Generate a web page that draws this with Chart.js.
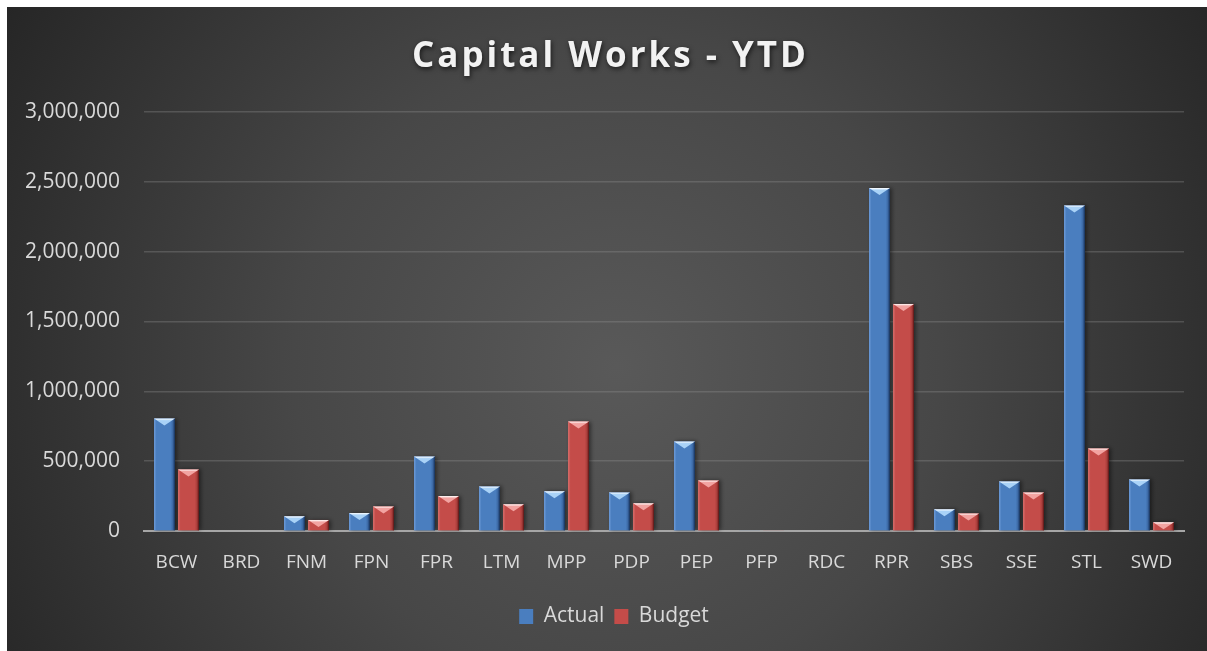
<!DOCTYPE html>
<html>
<head>
<meta charset="utf-8">
<title>Capital Works - YTD</title>
<script src="https://cdn.jsdelivr.net/npm/chart.js@4.4.1/dist/chart.umd.min.js"></script>
<style>
  html, body { margin: 0; padding: 0; background: #ffffff; overflow: hidden; }
  #wrap { position: absolute; left: 7px; top: 7px; width: 1200px; height: 644px; }
  canvas { display: block; }
</style>
</head>
<body>
<div id="wrap"><canvas id="capitalChart" width="1200" height="644"></canvas></div>
<script>
// --- chart data ---
const categories = ['BCW', 'BRD', 'FNM', 'FPN', 'FPR', 'LTM', 'MPP', 'PDP', 'PEP', 'PFP', 'RDC', 'RPR', 'SBS', 'SSE', 'STL', 'SWD'];
const actualValues = [805000, 0, 105000, 129000, 533000, 319000, 284000, 276000, 641000, 6000, 0, 2455000, 155000, 355000, 2331000, 369000];
const budgetValues = [441000, 0, 79000, 176000, 250000, 191000, 784000, 198000, 362000, 6000, 0, 1626000, 126000, 276000, 591000, 62000];
const yTicks = [0, 500000, 1000000, 1500000, 2000000, 2500000, 3000000];
const chartTitle = 'Capital Works - YTD';

const THEME = {
    text: '#d9d9d9',
    title: '#f2f2f2',
    grid: 'rgba(150,150,150,0.32)',
    axis: '#a6a6a6',
    font: "'Open Sans', 'DejaVu Sans', sans-serif",
    blue:  { body: '#4a7ebf', light: '#6d9bd8', dark: '#2c5288', edge: '#1f3c66', bevel: '#a9d2f7' },
    red:   { body: '#c44c49', light: '#d9706d', dark: '#8f2f2d', edge: '#6a1f1e', bevel: '#f2a3a1' }
};

// dark radial backdrop
const backdrop = {
    id: 'backdrop',
    beforeDraw(chart) {
        const { ctx, width, height } = chart;
        ctx.save();
        const g = ctx.createRadialGradient(610, 360, 0, 610, 360, 720);
        g.addColorStop(0, '#595959');
        g.addColorStop(0.45, '#474747');
        g.addColorStop(1, '#252525');
        ctx.fillStyle = g;
        ctx.fillRect(0, 0, width, height);
        ctx.restore();
    }
};

// spaced bold title, drawn by hand so letter spacing can be set
const spacedTitle = {
    id: 'spacedTitle',
    afterDraw(chart) {
        const ctx = chart.ctx;
        ctx.save();
        ctx.font = "bold 35px " + THEME.font;
        ctx.fillStyle = THEME.title;
        ctx.textBaseline = 'alphabetic';
        ctx.shadowColor = 'rgba(0,0,0,0.65)';
        ctx.shadowBlur = 5;
        ctx.shadowOffsetX = 1;
        ctx.shadowOffsetY = 2;
        const chars = chartTitle.split('');
        const widths = chars.map(c => ctx.measureText(c).width);
        const raw = widths.reduce((a, b) => a + b, 0);
        const target = 394;
        const spacing = Math.max(0, (target - raw) / (chars.length - 1));
        let x = 602 - target / 2;
        chars.forEach((c, i) => {
            ctx.fillText(c, x, 60);
            x += widths[i] + spacing;
        });
        ctx.restore();
    }
};

// bevel look on top of each bar
const bevelBars = {
    id: 'bevelBars',
    afterDatasetsDraw(chart) {
        const ctx = chart.ctx;
        chart.data.datasets.forEach((ds, di) => {
            const meta = chart.getDatasetMeta(di);
            const pal = di === 0 ? THEME.blue : THEME.red;
            meta.data.forEach(bar => {
                const p = bar.getProps(['x', 'y', 'base', 'width'], true);
                const h = p.base - p.y;
                if (h < 0.5) return;
                const l = p.x - p.width / 2, r = p.x + p.width / 2;
                ctx.save();
                ctx.shadowColor = 'rgba(0,0,0,0.45)';
                ctx.shadowBlur = 4;
                ctx.shadowOffsetX = 2;
                const g = ctx.createLinearGradient(l, 0, r, 0);
                g.addColorStop(0, pal.light);
                g.addColorStop(0.12, pal.body);
                g.addColorStop(0.8, pal.body);
                g.addColorStop(1, pal.dark);
                ctx.fillStyle = g;
                ctx.fillRect(l, p.y, p.width, h);
                ctx.restore();
                ctx.save();
                ctx.fillStyle = pal.edge;
                ctx.fillRect(r - 1.2, p.y, 1.2, h);
                if (h > 3) {
                    const d = Math.min(7, h);
                    ctx.beginPath();
                    ctx.moveTo(l, p.y);
                    ctx.lineTo(r, p.y);
                    ctx.lineTo(p.x, p.y + d);
                    ctx.closePath();
                    const tg = ctx.createLinearGradient(0, p.y, 0, p.y + d);
                    tg.addColorStop(0, '#ffffff');
                    tg.addColorStop(0.3, pal.bevel);
                    tg.addColorStop(1, pal.bevel);
                    ctx.fillStyle = tg;
                    ctx.fill();
                }
                ctx.restore();
            });
        });
    }
};

Chart.defaults.font.family = THEME.font;
Chart.defaults.color = THEME.text;

new Chart(document.getElementById('capitalChart').getContext('2d'), {
    type: 'bar',
    data: {
        labels: categories,
        datasets: [
            { label: 'Actual', data: actualValues, backgroundColor: THEME.blue.body, borderWidth: 0 },
            { label: 'Budget', data: budgetValues, backgroundColor: THEME.red.body, borderWidth: 0 }
        ]
    },
    options: {
        responsive: false,
        animation: false,
        datasets: {
            bar: { categoryPercentage: 0.74, barPercentage: 0.87 }
        },
        layout: { padding: { top: 105, right: 0, left: 14, bottom: 14 } },
        scales: {
            x: {
                grid: { display: false, drawTicks: false },
                border: { display: true, color: THEME.axis, width: 2 },
                ticks: { color: THEME.text, font: { size: 19 }, padding: 20 },
                afterFit(scale) { scale.height = 65; }
            },
            y: {
                min: 0,
                max: 3000000,
                afterBuildTicks(scale) { scale.ticks = yTicks.map(v => ({ value: v })); },
                grid: { color: THEME.grid, lineWidth: 1.5, drawTicks: false },
                border: { display: false },
                ticks: {
                    color: THEME.text,
                    font: { size: 21 },
                    padding: 24,
                    callback: v => v.toLocaleString('en-US')
                },
                afterFit(scale) { scale.width = 123; }
            },
            // empty spacer on the right so the legend stays centred on the whole frame
            spacer: {
                type: 'linear',
                position: 'right',
                display: true,
                grid: { display: false, drawTicks: false },
                border: { display: false },
                ticks: { display: false },
                afterFit(scale) { scale.width = 23; }
            }
        },
        plugins: {
            title: { display: false },
            tooltip: { enabled: false },
            legend: {
                position: 'bottom',
                labels: {
                    color: THEME.text,
                    font: { size: 21 },
                    boxWidth: 14,
                    boxHeight: 15,
                    padding: 10
                }
            }
        }
    },
    plugins: [backdrop, bevelBars, spacedTitle]
});
</script>
</body>
</html>
